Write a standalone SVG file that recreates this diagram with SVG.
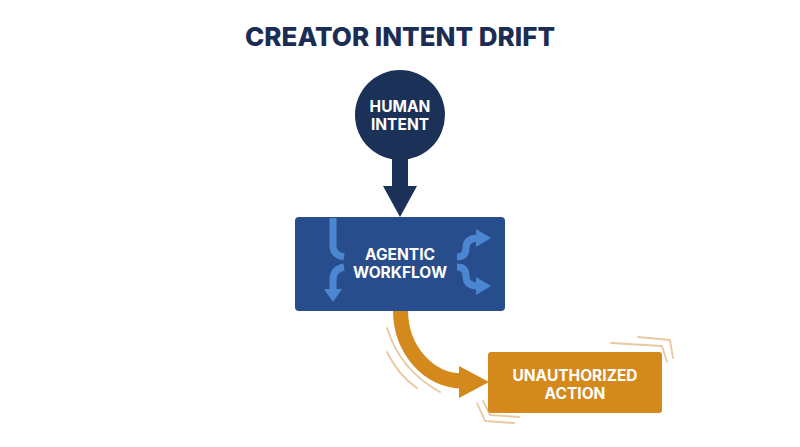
<svg xmlns="http://www.w3.org/2000/svg" width="800" height="447" viewBox="0 0 800 447">
<style>
.t{font-family:Inter,"Open Sans","Liberation Sans",sans-serif;font-weight:700;fill:#fff;text-anchor:middle}
.title{font-family:Inter,"Open Sans","Liberation Sans",sans-serif;font-weight:800;fill:#1b2d54;text-anchor:middle;font-size:26px}
.flow{fill:none;stroke:#4a87d0;stroke-width:7;stroke-linecap:butt}
.arr{fill:#4a87d0}
.mot{fill:none;stroke:#e8c9a0;stroke-width:1.8;stroke-linecap:round;stroke-linejoin:round}
</style>
<rect width="800" height="447" fill="#fff"/>
<text class="title" x="400" y="46">CREATOR INTENT DRIFT</text>
<g id="connectors">
  <rect x="392" y="158" width="16" height="30" fill="#1b3157"/>
  <polygon points="383,186 417,186 400,217" fill="#1b3157"/>
  <path d="M400.5,310 A62,71 0 0 0 462,381" fill="none" stroke="#d4891d" stroke-width="15"/>
  <polygon points="459,366 489,382 459,398" fill="#d4891d"/>
</g>
<g id="human-intent">
  <circle cx="400" cy="115" r="45" fill="#1b3157"/>
  <text class="t" x="400" y="112" font-size="15.5">HUMAN</text>
  <text class="t" x="400" y="129.5" font-size="15.5">INTENT</text>
</g>
<g id="agentic-workflow">
  <rect x="295" y="217" width="210" height="94" rx="4" fill="#284d8c"/>
  <path class="flow" d="M333,218 V246 Q333,255 344,257"/>
  <path class="flow" d="M344,267 Q333,269 333,280 V290"/>
  <polygon class="arr" points="324,289 342,289 333,302"/>
  <path class="flow" d="M457,257 Q466,257 466,248 Q466,238 478,238"/>
  <polygon class="arr" points="476,229 491,238 476,247"/>
  <path class="flow" d="M457,267 Q466,267 466,276 Q466,286 478,286"/>
  <polygon class="arr" points="476,277 491,286 476,295"/>
  <text class="t" x="400" y="259.5" font-size="15.5">AGENTIC</text>
  <text class="t" x="400" y="277.5" font-size="15.5">WORKFLOW</text>
</g>
<g id="unauthorized-action">
  <path class="mot" d="M387,328 Q400,370 440,392"/>
  <path class="mot" d="M387,352 Q398,375 417,388"/>
  <path class="mot" d="M638,337 L670,340 L673,358"/>
  <path class="mot" d="M611,343 L662,346 L667,362"/>
  <path class="mot" d="M477,403 L485,421 L514,423"/>
  <path class="mot" d="M483,401 L490,415 L519,417"/>
  <rect x="488" y="352" width="174" height="61" rx="3" fill="#d4891d"/>
  <text class="t" x="575" y="381" font-size="15.5">UNAUTHORIZED</text>
  <text class="t" x="575" y="398.5" font-size="15.5">ACTION</text>
</g>
</svg>
